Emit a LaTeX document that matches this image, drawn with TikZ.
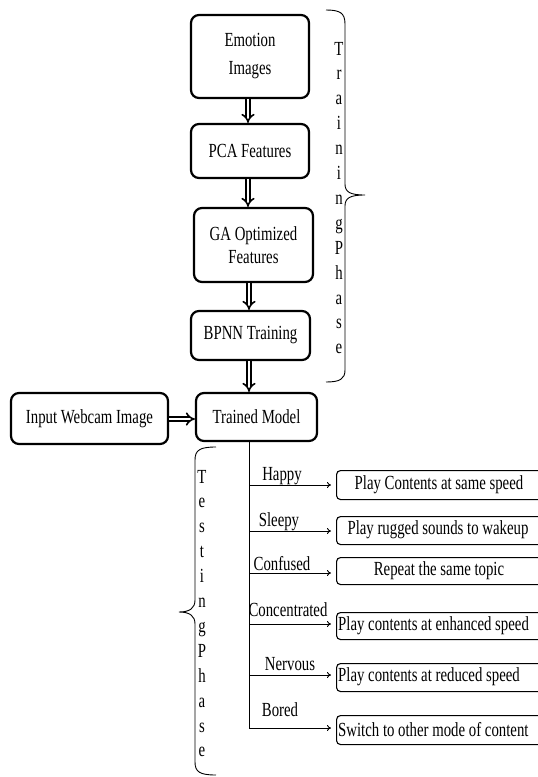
\documentclass[tikz,border=0pt]{standalone}
\usepackage{fontspec}
\setmainfont{Liberation Serif}[FakeStretch=0.74]
\usetikzlibrary{arrows.meta}
\begin{document}
\begin{tikzpicture}[x=1pt,y=-1pt,
  every node/.style={font=\fontsize{20}{24}\selectfont, inner sep=0pt},
  mainbox/.style={draw, line width=2.2pt, rounded corners=8pt, align=center},
  resbox/.style={draw, line width=1.1pt, rounded corners=4pt},
  dbl/.style={double, double distance=2.8pt, line width=1.6pt, -{Implies}},
  br/.style={line width=0.9pt, -{To[length=4pt,width=6pt]}, shorten >=5pt},
  brace/.style={line width=0.9pt},
  letter/.style={anchor=base}]
\useasboundingbox (0,0) rectangle (538,777);

% main flow
\node[mainbox, minimum width=118pt, minimum height=83pt, font=\fontsize{20}{28}\selectfont] (e1) at (250,56.5) {Emotion\\Images};
\node[mainbox, minimum width=118pt, minimum height=54pt] (e2) at (250,151) {PCA Features};
\node[mainbox, minimum width=119pt, minimum height=74pt, font=\fontsize{20}{23}\selectfont] (e3) at (253.5,245) {GA Optimized\\Features};
\node[mainbox, minimum width=119pt, minimum height=49pt] (e4) at (250.5,335.5) {BPNN Training};
\node[mainbox, minimum width=121pt, minimum height=48pt] (tm) at (256.5,417) {Trained Model};
\node[mainbox, minimum width=157pt, minimum height=51pt] (in) at (89.5,418.5) {Input Webcam Image};

\draw[dbl] (e1.south -| 248,0) -- (e2.north -| 248,0);
\draw[dbl] (e2.south -| 248,0) -- (e3.north -| 248,0);
\draw[dbl] (e3.south -| 249,0) -- (e4.north -| 249,0);
\draw[dbl] (e4.south -| 249,0) -- (tm.north -| 249,0);
\draw[dbl] (in.east |- 0,419) -- (tm.west |- 0,419);

% training brace
\draw[brace] (326,10) .. controls (340,10) and (345,13) .. (345,24) -- (345,184)
  .. controls (345,192) and (350,195) .. (365,195)
  .. controls (350,195) and (345,198) .. (345,206) -- (345,370)
  .. controls (345,379) and (340,382) .. (326,382);
\foreach \c [count=\i from 0] in {T,r,a,i,n,i,n,g,P,h,a,s,e}
  \node[letter] (tr\i) at (339,55+24.9*\i) {\c};

% testing brace
\draw[brace] (216,447) .. controls (200,447) and (195,450) .. (195,460) -- (195,600)
  .. controls (195,608) and (190,612) .. (179,612)
  .. controls (190,612) and (195,616) .. (195,624) -- (195,762)
  .. controls (195,772) and (200,775) .. (216,775);
\foreach \c [count=\i from 0] in {T,e,s,t,i,n,g,P,h,a,s,e}
  \node[letter] (ts\i) at (202,483+24.9*\i) {\c};

% result boxes
\node[resbox, anchor=north west, minimum width=206pt, minimum height=29pt] (r1) at (336,470) {};
\node[resbox, anchor=north west, minimum width=206pt, minimum height=28pt] (r2) at (336,516) {};
\node[resbox, anchor=north west, minimum width=206pt, minimum height=27pt] (r3) at (336,557) {};
\node[resbox, anchor=north west, minimum width=206pt, minimum height=27pt] (r4) at (336,612) {};
\node[resbox, anchor=north west, minimum width=206pt, minimum height=28pt] (r5) at (336,663) {};
\node[resbox, anchor=north west, minimum width=206pt, minimum height=29pt] (r6) at (336,715) {};

\node (t1) at (439,485) {Play Contents at same speed};
\node (t2) at (438,530) {Play rugged sounds to wakeup};
\node (t3) at (439,571) {Repeat the same topic};
\node[anchor=west] (t4) at (338,626) {Play contents at enhanced speed};
\node[anchor=west] (t5) at (338,677) {Play contents at reduced speed};
\node[anchor=west] (t6) at (338,730) {Switch to other mode of content};

% trunk and branches
\coordinate (h1) at (249,485);
\coordinate (h2) at (249,531);
\coordinate (h3) at (249,573);
\coordinate (h4) at (249,624);
\coordinate (h5) at (249,675);
\coordinate (h6) at (249,728);
\draw[line width=0.9pt] (tm.south -| h6) -- (h6);
\foreach \k in {1,...,6}
  \draw[br] (h\k) -- (h\k -| r\k.west);

\node (l1) at (282,476) {Happy};
\node (l2) at (279,522) {Sleepy};
\node (l3) at (282,564) {Confused};
\node (l4) at (288,610) {Concentrated};
\node (l5) at (290,664) {Nervous};
\node (l6) at (280,710) {Bored};
\end{tikzpicture}
\end{document}
